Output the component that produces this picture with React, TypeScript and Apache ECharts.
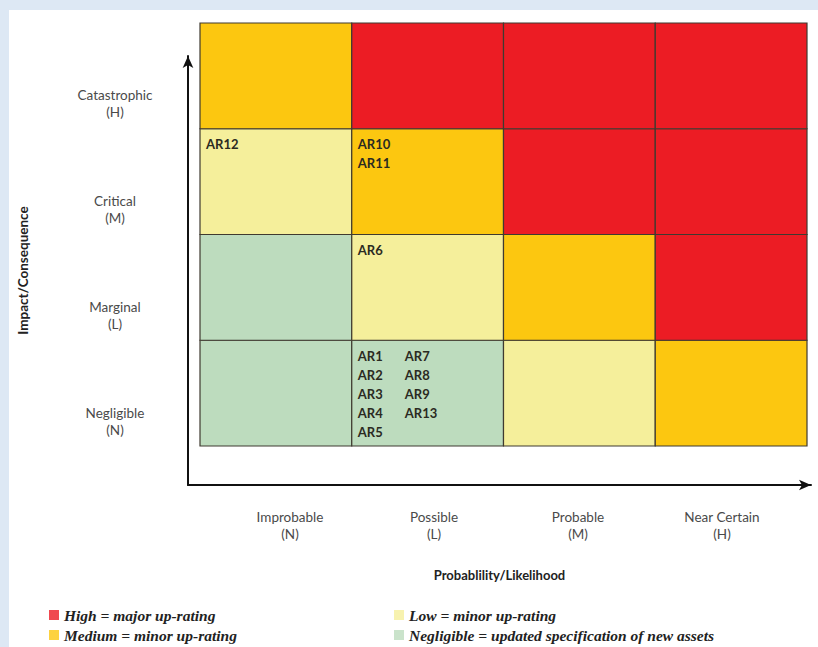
import React, { useEffect, useRef } from 'react';
import * as echarts from 'echarts';

// Axis categories (left → right, bottom → top)
const likelihoodLabels = ['Improbable\n(N)', 'Possible\n(L)', 'Probable\n(M)', 'Near Certain\n(H)'];
const impactLabels = ['Negligible\n(N)', 'Marginal\n(L)', 'Critical\n(M)', 'Catastrophic\n(H)'];

// Risk levels and legend texts
const riskLevels = ['High', 'Medium', 'Low', 'Negligible'];
const legendTexts = [
  'High = major up-rating',
  'Medium = minor up-rating',
  'Low = minor up-rating',
  'Negligible = updated specification of new assets',
];

// Rating per impact row, per likelihood column
const ratingNegligible = ['Negligible', 'Negligible', 'Low', 'Medium'];
const ratingMarginal = ['Negligible', 'Low', 'Medium', 'High'];
const ratingCritical = ['Low', 'Medium', 'High', 'High'];
const ratingCatastrophic = ['Medium', 'High', 'High', 'High'];

// Assets placed in cells (columns of asset ids)
const assetsImprobableCritical = [['AR12']];
const assetsPossibleCritical = [['AR10', 'AR11']];
const assetsPossibleMarginal = [['AR6']];
const assetsPossibleNegligible = [
  ['AR1', 'AR2', 'AR3', 'AR4', 'AR5'],
  ['AR7', 'AR8', 'AR9', 'AR13'],
];

const levelColors: Record<string, string> = {
  High: '#ec1c24',
  Medium: '#fcc710',
  Low: '#f5ef9b',
  Negligible: '#bddcbe',
};

export default function App() {
  const ref = useRef<HTMLDivElement>(null);

  useEffect(() => {
    if (!ref.current) return;
    const chart = echarts.init(ref.current, undefined, { renderer: 'svg' });

    const rows = [ratingNegligible, ratingMarginal, ratingCritical, ratingCatastrophic];
    const cellData: number[][] = [];
    rows.forEach((row, y) => row.forEach((lvl, x) => cellData.push([x, y, riskLevels.indexOf(lvl)])));

    const assetCells = [
      { x: 0, y: 2, columns: assetsImprobableCritical },
      { x: 1, y: 2, columns: assetsPossibleCritical },
      { x: 1, y: 1, columns: assetsPossibleMarginal },
      { x: 1, y: 0, columns: assetsPossibleNegligible },
    ];

    const labelFont = 'Lato, "Open Sans", sans-serif';
    const legendText = {
      fontFamily: '"Liberation Serif", serif',
      fontStyle: 'italic',
      fontWeight: 'bold',
      fontSize: 15.5,
      color: '#222',
    };

    const option: any = {
      animation: false,
      backgroundColor: '#dde8f4',
      graphic: [
        {
          type: 'rect',
          z: -10,
          silent: true,
          shape: { x: 9, y: 10, width: 809, height: 637 },
          style: { fill: '#ffffff' },
        },
      ],
      grid: [
        // matrix cells
        { left: 200, right: 11, top: 23, bottom: 201 },
        // arrow axes
        { left: 188, right: 7, top: 56, bottom: 162 },
        // category labels
        { left: 218, right: 24, top: 50, bottom: 172 },
      ],
      xAxis: [
        {
          gridIndex: 0,
          type: 'category',
          data: likelihoodLabels,
          axisLine: { show: false },
          axisTick: { show: false },
          axisLabel: { show: false },
          splitLine: { show: false },
        },
        {
          gridIndex: 1,
          type: 'value',
          min: 0,
          max: 1,
          axisLine: {
            show: true,
            onZero: false,
            symbol: ['none', 'arrow'],
            symbolSize: [8, 12],
            lineStyle: { color: '#111', width: 2 },
          },
          axisTick: { show: false },
          axisLabel: { show: false },
          splitLine: { show: false },
          name: 'Probablility/Likelihood',
          nameLocation: 'middle',
          nameGap: 83,
          nameTextStyle: { fontFamily: labelFont, fontWeight: 'bold', fontSize: 13, color: '#222' },
        },
        {
          gridIndex: 2,
          type: 'category',
          data: likelihoodLabels,
          axisLine: { show: false },
          axisTick: { show: false },
          splitLine: { show: false },
          axisLabel: {
            margin: 33,
            fontFamily: labelFont,
            fontSize: 13.5,
            lineHeight: 17,
            color: '#4a4a4a',
          },
        },
      ],
      yAxis: [
        {
          gridIndex: 0,
          type: 'category',
          data: impactLabels,
          axisLine: { show: false },
          axisTick: { show: false },
          axisLabel: { show: false },
          splitLine: { show: false },
        },
        {
          gridIndex: 1,
          type: 'value',
          min: 0,
          max: 1,
          axisLine: {
            show: true,
            onZero: false,
            symbol: ['none', 'arrow'],
            symbolSize: [8, 12],
            lineStyle: { color: '#111', width: 2 },
          },
          axisTick: { show: false },
          axisLabel: { show: false },
          splitLine: { show: false },
          name: 'Impact/Consequence',
          nameLocation: 'middle',
          nameGap: 158,
          nameTextStyle: { fontFamily: labelFont, fontWeight: 'bold', fontSize: 13.5, color: '#222' },
        },
        {
          gridIndex: 2,
          type: 'category',
          data: impactLabels,
          axisLine: { show: false },
          axisTick: { show: false },
          splitLine: { show: false },
          axisLabel: {
            margin: 103,
            align: 'center',
            fontFamily: labelFont,
            fontSize: 13.5,
            lineHeight: 17,
            color: '#4a4a4a',
          },
        },
      ],
      legend: [
        {
          orient: 'vertical',
          left: 49,
          top: 607,
          padding: 0,
          itemWidth: 10,
          itemHeight: 10,
          itemGap: 4,
          icon: 'rect',
          data: [legendTexts[0], legendTexts[1]],
          textStyle: legendText,
        },
        {
          orient: 'vertical',
          left: 394,
          top: 607,
          padding: 0,
          itemWidth: 10,
          itemHeight: 10,
          itemGap: 4,
          icon: 'rect',
          data: [legendTexts[2], legendTexts[3]],
          textStyle: legendText,
        },
      ],
      series: [
        {
          type: 'custom',
          xAxisIndex: 0,
          yAxisIndex: 0,
          data: cellData,
          renderItem: (params: any, api: any) => {
            const xi = api.value(0);
            const yi = api.value(1);
            const c = api.coord([xi, yi]);
            const s = api.size([1, 1]);
            const left = c[0] - s[0] / 2;
            const top = c[1] - s[1] / 2;
            const level = riskLevels[api.value(2)];
            const children: any[] = [
              {
                type: 'rect',
                shape: { x: left, y: top, width: s[0], height: s[1] },
                style: { fill: levelColors[level], stroke: '#3f3a30', lineWidth: 1.2 },
              },
            ];
            const cell = assetCells.find((a) => a.x === xi && a.y === yi);
            if (cell) {
              cell.columns.forEach((col, ci) =>
                col.forEach((t, li) => {
                  children.push({
                    type: 'text',
                    x: left + 6 + ci * 47,
                    y: top + 9 + li * 19,
                    style: {
                      text: t,
                      fill: '#2b2a22',
                      fontFamily: labelFont,
                      fontWeight: 'bold',
                      fontSize: 13,
                      align: 'left',
                      verticalAlign: 'top',
                    },
                  });
                })
              );
            }
            return { type: 'group', children };
          },
        },
        ...riskLevels.map((lvl, i) => ({
          type: 'scatter',
          name: legendTexts[i],
          xAxisIndex: 1,
          yAxisIndex: 1,
          data: [],
          itemStyle: { color: levelColors[lvl] },
        })),
      ],
    };

    chart.setOption(option);
    return () => chart.dispose();
  }, []);

  return (
    <div style={{ position: 'fixed', left: 0, top: 0, width: 818, height: 647 }}>
      <div ref={ref} style={{ width: 818, height: 647 }} />
    </div>
  );
}
